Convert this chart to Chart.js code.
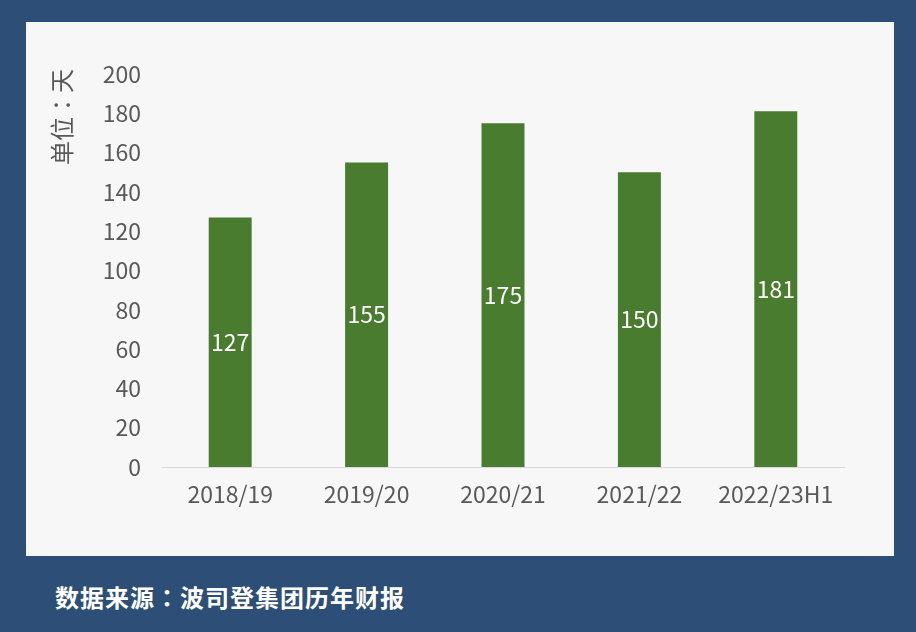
<!DOCTYPE html>
<html lang="zh-Hant">
<head>
  <meta charset="UTF-8"/>
  <title>波司登 存货周转天数</title>
  <script src="https://cdn.jsdelivr.net/npm/chart.js"></script>
  <style>
    html, body {
      margin: 0;
      padding: 0;
      width: 916px;
      height: 632px;
      background-color: #2d4e76;
      overflow: hidden;
    }
    .panel {
      position: absolute;
      left: 26px;
      top: 22px;
      width: 868px;
      height: 534px;
      background-color: #f7f7f7;
    }
    .source {
      position: absolute;
      left: 55px;
      top: 579px;
      color: #fff;
      font-family: "Noto Sans CJK TC", sans-serif;
      font-weight: bold;
      font-size: 24px;
      letter-spacing: 1px;
      line-height: 36px;
    }
  </style>
</head>
<body>
  <div class="panel">
    <canvas id="chart" width="868" height="534" lang="zh-Hant"></canvas>
  </div>
  <div class="source">数据来源<span lang="zh-Hant">：</span>波司登集团历年财报</div>
  <script>
    const categories = ["2018/19", "2019/20", "2020/21", "2021/22", "2022/23H1"];
    const days = [127, 155, 175, 150, 181];
    const yTicks = [0, 20, 40, 60, 80, 100, 120, 140, 160, 180, 200];
    const unitLabel = "单位：天";

    const fontFamily = '"Noto Sans CJK SC", sans-serif';

    // value labels in the middle of each bar + the unit label on the left
    const barLabels = {
      id: "barLabels",
      afterDatasetsDraw(chart) {
        const ctx = chart.ctx;
        const meta = chart.getDatasetMeta(0);
        ctx.save();
        ctx.fillStyle = "#ffffff";
        ctx.font = "23px " + fontFamily;
        ctx.textAlign = "center";
        ctx.textBaseline = "middle";
        meta.data.forEach((bar, i) => {
          const mid = (bar.y + bar.base) / 2;
          ctx.fillText(String(days[i]), bar.x, mid);
        });
        ctx.restore();

        ctx.save();
        ctx.fillStyle = "#595959";
        ctx.font = '24px "Noto Sans CJK TC", sans-serif';
        ctx.translate(36, 95);
        ctx.rotate(-Math.PI / 2);
        ctx.textAlign = "center";
        ctx.textBaseline = "middle";
        ctx.fillText(unitLabel, 0, 0);
        ctx.restore();
      }
    };

    new Chart(document.getElementById("chart"), {
      type: "bar",
      data: {
        labels: categories,
        datasets: [{
          data: days,
          backgroundColor: "#4a7c2f",
          barPercentage: 0.315,
          categoryPercentage: 1
        }]
      },
      options: {
        responsive: false,
        animation: false,
        layout: { padding: { top: 52, right: 50, left: 0, bottom: 0 } },
        plugins: {
          legend: { display: false },
          tooltip: { enabled: false }
        },
        scales: {
          x: {
            grid: { display: false },
            border: { display: true, color: "#d9d9d9", width: 1 },
            ticks: {
              color: "#595959",
              font: { family: fontFamily, size: 23 },
              padding: 5,
              maxRotation: 0
            },
            afterFit(scale) { scale.height = 89; }
          },
          y: {
            min: 0,
            max: 200,
            afterBuildTicks(scale) {
              scale.ticks = yTicks.map(v => ({ value: v }));
            },
            grid: { display: false },
            border: { display: false },
            ticks: {
              color: "#595959",
              font: { family: fontFamily, size: 23 },
              padding: 13
            },
            afterFit(scale) { scale.width = 136; }
          }
        }
      },
      plugins: [barLabels]
    });
  </script>
</body>
</html>
